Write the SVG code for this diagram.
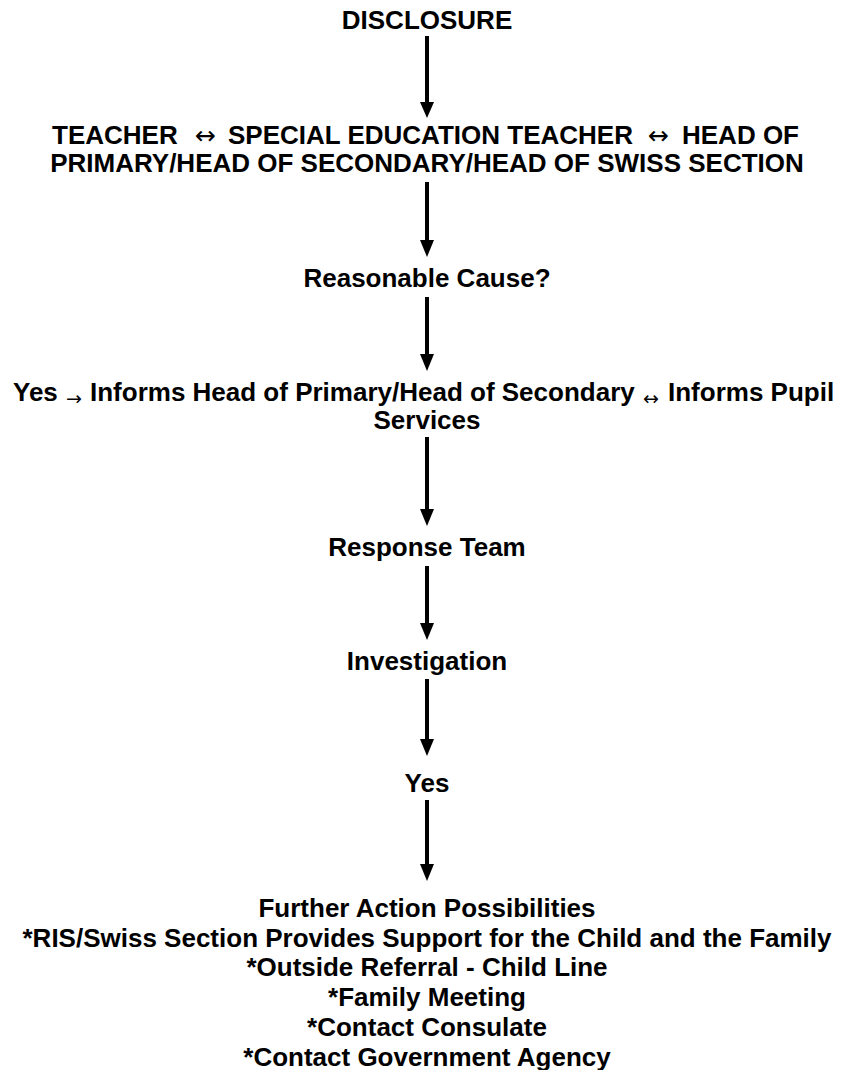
<svg xmlns="http://www.w3.org/2000/svg" width="845" height="1070" viewBox="0 0 845 1070">
<style>
text{font-family:"Liberation Sans",Arial,sans-serif;font-weight:bold;font-size:26px;fill:#000;text-anchor:middle}
text.l{text-anchor:start}
.sm{font-family:"DejaVu Sans",sans-serif;font-size:25px;font-weight:normal}
.sm2{font-family:"DejaVu Sans",sans-serif;font-size:19px;font-weight:normal}
.ln{stroke:#000;stroke-width:4;fill:none}
</style>
<rect width="845" height="1070" fill="#fff"/>
<g id="connectors">
<path class="ln" d="M427,36 V104"/><path d="M420,102 L434,102 L427,118 Z"/>
<path class="ln" d="M427,182 V242"/><path d="M420,240 L434,240 L427,257 Z"/>
<path class="ln" d="M427,297 V356"/><path d="M420,354 L434,354 L427,371 Z"/>
<path class="ln" d="M427,437 V511"/><path d="M420,509 L434,509 L427,526 Z"/>
<path class="ln" d="M427,566 V625"/><path d="M420,623 L434,623 L427,640 Z"/>
<path class="ln" d="M427,679 V741"/><path d="M420,739 L434,739 L427,756 Z"/>
<path class="ln" d="M427,800 V866"/><path d="M420,864 L434,864 L427,881 Z"/>
</g>
<g id="n1"><text x="427" y="29">DISCLOSURE</text></g>
<g id="n2">
<text class="l" y="144"><tspan x="52">TEACHER</tspan><tspan class="sm" x="195">↔</tspan><tspan x="228">SPECIAL EDUCATION TEACHER</tspan><tspan class="sm" x="648">↔</tspan><tspan x="682">HEAD OF</tspan></text>
<text x="427" y="172">PRIMARY/HEAD OF SECONDARY/HEAD OF SWISS SECTION</text>
</g>
<g id="n3"><text x="427" y="287">Reasonable Cause?</text></g>
<g id="n4">
<text class="l" y="401"><tspan x="13">Yes</tspan><tspan class="sm2" x="66" dy="4">→</tspan><tspan x="90" dy="-4">Informs Head of Primary/Head of Secondary</tspan><tspan class="sm2" x="643" dy="4">↔</tspan><tspan x="668" dy="-4">Informs Pupil</tspan></text>
<text x="427" y="429">Services</text>
</g>
<g id="n5"><text x="427" y="556">Response Team</text></g>
<g id="n6"><text x="427" y="670">Investigation</text></g>
<g id="n7"><text x="427" y="792">Yes</text></g>
<g id="n8">
<text x="427" y="917">Further Action Possibilities</text>
<text x="427" y="947">*RIS/Swiss Section Provides Support for the Child and the Family</text>
<text x="427" y="976">*Outside Referral - Child Line</text>
<text x="427" y="1006">*Family Meeting</text>
<text x="427" y="1036">*Contact Consulate</text>
<text x="427" y="1066">*Contact Government Agency</text>
</g>
</svg>
